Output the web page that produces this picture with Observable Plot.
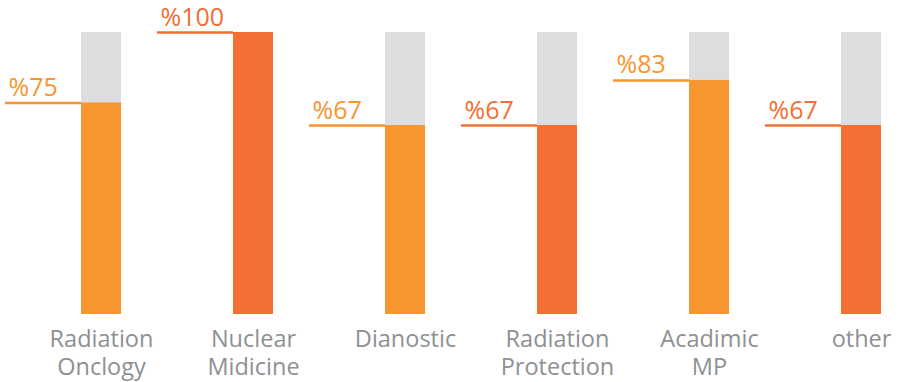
<!DOCTYPE html>
<html><head><meta charset="utf-8">
<script src="https://cdn.jsdelivr.net/npm/d3@7"></script>
<script src="https://cdn.jsdelivr.net/npm/@observablehq/plot@0.6"></script>
<style>body{margin:0;background:#fff;} svg{display:block;}</style>
</head><body><div id="chart"></div>
<script>
// Data
const categories = ["Radiation\nOnclogy", "Nuclear\nMidicine", "Dianostic", "Radiation\nProtection", "Acadimic\nMP", "other"];
const values = [75, 100, 67, 67, 83, 67];
const fullValue = 100;

// Styling
const palette = ["#F7952F", "#F26E33"];
const grey = "#DCDDDF";
const labelGrey = "#8E9093";

const W = 898, H = 382;
const marginLeft = 101, marginRight = 37;
const pxPerUnit = (W - marginLeft - marginRight) / (categories.length - 1);
const halfBar = 20 / pxPerUnit;
const lineLen = 76 / pxPerUnit;

const data = categories.map((c, i) => ({
  i, category: c, value: values[i], full: fullValue,
  label: "%" + values[i], color: palette[i % 2]
}));

const chart = Plot.plot({
  width: W, height: H,
  marginLeft, marginRight, marginTop: 32, marginBottom: 68,
  x: {domain: [0, categories.length - 1], axis: null},
  y: {domain: [0, 100], axis: null},
  style: {fontFamily: "'Open Sans', sans-serif", background: "#fff"},
  marks: [
    Plot.rectY(data, {x1: d => d.i - halfBar, x2: d => d.i + halfBar, y1: 0, y2: "full", fill: grey}),
    Plot.rectY(data, {x1: d => d.i - halfBar, x2: d => d.i + halfBar, y1: 0, y2: "value", fill: d => d.color}),
    Plot.ruleY(data, {x1: d => d.i - halfBar - lineLen, x2: d => d.i - halfBar, y: "value", stroke: d => d.color, strokeWidth: 2.5}),
    Plot.text(data, {x: d => d.i - halfBar - lineLen, y: "value", text: "label", fill: d => d.color,
      textAnchor: "start", lineAnchor: "bottom", dx: 3, dy: -7, fontSize: 25}),
    Plot.text(data, {x: "i", y: 0, text: "category", fill: labelGrey, textAnchor: "middle",
      lineAnchor: "top", dy: 12, fontSize: 23.5, lineHeight: 1.2})
  ]
});
document.getElementById("chart").append(chart);
</script>
</body></html>
